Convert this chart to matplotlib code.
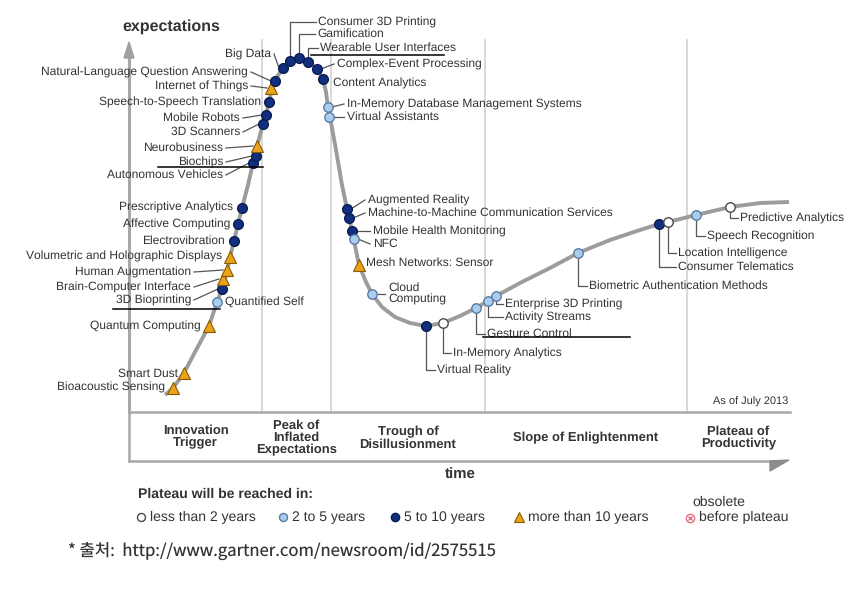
import matplotlib
matplotlib.use('Agg')
import matplotlib.pyplot as plt
from matplotlib.patches import Polygon

# Hype cycle curve (pixel space of the original chart)
curve_x = [165, 173, 184, 195, 209, 217, 222, 227, 230, 234, 238, 242, 248, 253, 257, 263, 266, 269,
           272, 275, 283, 290, 299, 308, 317, 323, 326, 328, 330, 336, 342, 347, 352, 359, 366, 372,
           382, 395, 410, 426, 443, 460, 476, 488, 496, 520, 550, 578, 610, 640, 659, 668, 696, 730,
           760, 789]
curve_y = [395, 388, 373, 352, 326, 302, 289, 272, 257, 241, 224, 208, 185, 163, 146, 124, 115, 102,
           88, 80, 68, 61, 58, 61, 69, 79, 92, 107, 117, 150, 185, 209, 231, 265, 282, 294,
           307, 317, 323, 326, 323, 316, 308, 301, 296, 283, 268, 253, 240, 230, 224, 222, 215, 207,
           203, 202]

# Technologies on the curve
tech_names = ['Bioacoustic Sensing', 'Smart Dust', 'Quantum Computing', 'Quantified Self',
              '3D Bioprinting', 'Brain-Computer Interface', 'Human Augmentation',
              'Volumetric and Holographic Displays', 'Electrovibration', 'Affective Computing',
              'Prescriptive Analytics', 'Autonomous Vehicles', 'Biochips', 'Neurobusiness',
              '3D Scanners', 'Mobile Robots', 'Speech-to-Speech Translation', 'Internet of Things',
              'Natural-Language Question Answering', 'Big Data', 'Consumer 3D Printing',
              'Gamification', 'Wearable User Interfaces', 'Complex-Event Processing',
              'Content Analytics', 'In-Memory Database Management Systems', 'Virtual Assistants',
              'Augmented Reality', 'Machine-to-Machine Communication Services',
              'Mobile Health Monitoring', 'NFC', 'Mesh Networks: Sensor', 'Cloud\nComputing',
              'Virtual Reality', 'In-Memory Analytics', 'Gesture Control', 'Activity Streams',
              'Enterprise 3D Printing', 'Biometric Authentication Methods', 'Consumer Telematics',
              'Location Intelligence', 'Speech Recognition', 'Predictive Analytics']
tech_x = [173, 184, 209, 217, 222, 223, 227, 230, 234, 238, 242, 253, 256, 257, 263, 266, 269, 271,
          275, 283, 290, 299, 308, 317, 323, 328, 329, 347, 349, 352, 354, 359, 372, 426, 443, 476,
          488, 496, 578, 659, 668, 696, 730]
tech_y = [388, 373, 326, 302, 289, 279, 270, 257, 241, 224, 208, 163, 156, 146, 124, 115, 102, 88,
          81, 68, 61, 58, 62, 69, 79, 107, 117, 209, 218, 231, 239, 265, 294, 326, 323, 308,
          301, 296, 253, 224, 222, 215, 207]
# years to plateau: lt2, 2-5, 5-10, gt10
tech_years = ['gt10', 'gt10', 'gt10', '2-5', '5-10', 'gt10', 'gt10', 'gt10', '5-10', '5-10',
              '5-10', '5-10', '5-10', 'gt10', '5-10', '5-10', '5-10', 'gt10', '5-10', '5-10',
              '5-10', '5-10', '5-10', '5-10', '5-10', '2-5', '2-5', '5-10', '5-10', '5-10',
              '2-5', 'gt10', '2-5', '5-10', 'lt2', '2-5', '2-5', '2-5', '2-5', '5-10', 'lt2',
              '2-5', 'lt2']

phase_names = ['Innovation\nTrigger', 'Peak of\nInflated\nExpectations', 'Trough of\nDisillusionment',
               'Slope of Enlightenment', 'Plateau of\nProductivity']
phase_bounds = [262, 331, 485, 687]

legend_labels = ['less than 2 years', '2 to 5 years', '5 to 10 years', 'more than 10 years']

# label layout: text x, text y, alignment, leader type
label_layout = [
    (165, 387, 'right', None), (178, 374, 'right', None), (201, 326, 'right', None),
    (225, 302, 'left', None), (191, 300, 'right', 'line'), (191, 287, 'right', 'line'),
    (191, 272, 'right', 'line'), (222, 256, 'right', None), (225, 241, 'right', None),
    (230, 224, 'right', None), (233, 207, 'right', None), (223, 175, 'right', 'line'),
    (223, 162, 'right', 'line'), (223, 148, 'right', 'line'), (240, 132, 'right', 'line'),
    (240, 118, 'right', 'line'), (261, 102, 'right', None), (248, 86, 'right', 'line'),
    (248, 72, 'right', 'line'), (271, 54, 'right', 'line'), (318, 22, 'left', 'elbow'),
    (317, 34, 'left', 'elbow'), (320, 48, 'left', 'elbow'), (337, 64, 'left', 'line'),
    (333, 83, 'left', None), (347, 104, 'left', 'line'), (347, 117, 'left', 'line'),
    (368, 200, 'left', 'line'), (368, 213, 'left', 'line'), (373, 231, 'left', 'line'),
    (373, 244, 'left', 'line'), (366, 263, 'left', None), (388, 294, 'left', 'line'),
    (437, 370, 'left', 'elbow'), (453, 353, 'left', 'elbow'), (487, 334, 'left', 'elbow'),
    (505, 317, 'left', 'elbow'), (505, 304, 'left', 'elbow'), (589, 286, 'left', 'elbow'),
    (678, 267, 'left', 'elbow'), (678, 253, 'left', 'elbow'), (707, 236, 'left', 'elbow'),
    (740, 218, 'left', 'elbow'),
]

marker_style = {
    'lt2': dict(marker='o', ms=6.8, mfc='white', mec='#4a4a4a', mew=1.0),
    '2-5': dict(marker='o', ms=6.8, mfc='#a9cdec', mec='#5a7ca6', mew=1.0),
    '5-10': dict(marker='o', ms=7.0, mfc='#112f7e', mec='#0a1d52', mew=1.0),
    'gt10': dict(marker='^', ms=8.5, mfc='#eba21b', mec='#8a5a00', mew=0.8),
}

plt.rcParams['font.family'] = ['Liberation Sans', 'DejaVu Sans']
plt.rcParams['text.hinting_factor'] = 1
plt.rcParams['text.hinting'] = 'no_hinting'
text_col = '#333333'

fig = plt.figure(figsize=(8.49, 5.94), dpi=100)
ax = fig.add_axes([0, 0, 1, 1])
ax.set_xlim(0, 849)
ax.set_ylim(594, 0)
ax.axis('off')

# phase separators and y axis
for xb in phase_bounds:
    ax.plot([xb, xb], [40, 412], color='#d6d6d6', lw=1.3, zorder=1)
ax.plot([129, 129], [56, 412], color='#a8a8a8', lw=2.2, zorder=2)
ax.add_patch(Polygon([[129, 42], [124, 58], [134, 58]], closed=True, color='#a0a0a0', zorder=2))
ax.text(122, 27, 'expectations', fontsize=11.3, fontweight='bold', color=text_col, va='center')

# time band
ax.plot([129, 790], [412, 412], color='#a8a8a8', lw=1.8, zorder=2)
ax.plot([129, 772], [461, 461], color='#a8a8a8', lw=1.8, zorder=2)
ax.plot([129, 129], [412, 461], color='#a8a8a8', lw=1.8, zorder=2)
ax.add_patch(Polygon([[770, 461], [789, 460], [770, 471]], closed=True, color='#8c8c8c', zorder=2))
ax.text(460, 475, 'time', fontsize=11, fontweight='bold', color=text_col, ha='center', va='center')
ax.text(788, 402, 'As of July 2013', fontsize=7.8, color=text_col, ha='right', va='center')

edges = [129] + phase_bounds + [790]
phase_y = [437, 438, 438, 438, 438]
for i, name in enumerate(phase_names):
    cx = (edges[i] + edges[i + 1]) / 2
    ax.text(cx, phase_y[i], name, fontsize=9, fontweight='bold', color=text_col,
            ha='center', va='center', linespacing=1.0)

# the curve
ax.plot(curve_x, curve_y, color='#9c9c9c', lw=2.8, solid_capstyle='butt', solid_joinstyle='round', zorder=3)

# leaders, labels and markers
for name, mx, my, yrs, (tx, ty, ha, leader) in zip(tech_names, tech_x, tech_y, tech_years, label_layout):
    if leader == 'line':
        if ha == 'right':
            ax.plot([tx + 3, mx - 4], [ty, my], color='#555555', lw=0.9, zorder=3.5)
        else:
            ax.plot([mx + 4, tx - 3], [my, ty], color='#555555', lw=0.9, zorder=3.5)
    elif leader == 'elbow':
        ax.plot([mx, mx, tx - 2], [my, ty, ty], color='#555555', lw=0.9, zorder=3.5)
    ax.text(tx, ty, name, fontsize=8.5, color=text_col, ha=ha, va='center', linespacing=1.05)
    ax.plot([mx], [my], linestyle='none', zorder=5, **marker_style[yrs])

# stray underline strokes that are in the source image
for x0, x1, yl in [(311, 444, 55), (158, 263, 167), (113, 220, 309), (483, 630, 337)]:
    ax.plot([x0, x1], [yl, yl], color='black', lw=1.1, zorder=6)

# legend
ax.text(138, 494, 'Plateau will be reached in:', fontsize=10, fontweight='bold', color=text_col, va='center')
leg_x = [141, 283, 395, 519]
leg_keys = ['lt2', '2-5', '5-10', 'gt10']
for i, lab in enumerate(legend_labels):
    st = dict(marker_style[leg_keys[i]])
    st['ms'] = st['ms'] * 0.85
    ax.plot([leg_x[i]], [517], linestyle='none', **st)
    ax.text(leg_x[i] + 9, 517, lab, fontsize=10, color=text_col, va='center')
ax.plot([690], [518], marker='o', ms=6, mfc='white', mec='#e0707e', mew=1.0, linestyle='none')
ax.plot([690], [518], marker='x', ms=3.5, mec='#e0707e', mew=1.0, linestyle='none')
ax.text(719, 502, 'obsolete', fontsize=10, color=text_col, ha='center', va='center')
ax.text(699, 517, 'before plateau', fontsize=10, color=text_col, ha='left', va='center')

# source note
ax.text(68, 551, '* 출처:  http://www.gartner.com/newsroom/id/2575515', fontsize=12, color=text_col,
        va='center', family=['Noto Sans CJK KR', 'DejaVu Sans'])

fig.savefig('out.png', dpi=100)
